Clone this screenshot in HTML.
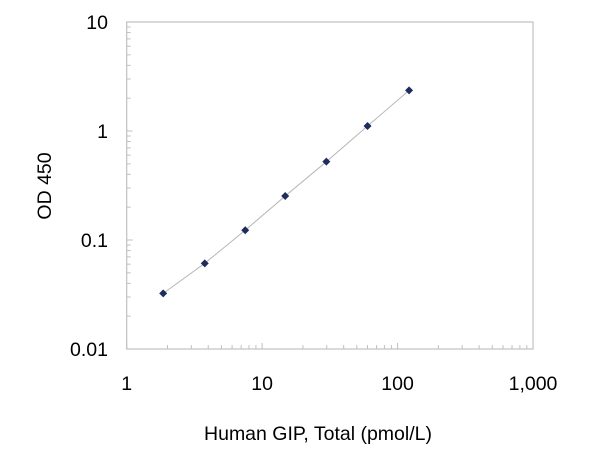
<!DOCTYPE html>
<html><head><meta charset="utf-8"><style>
body{margin:0;background:#fff;}
svg{display:block;font-family:"Liberation Sans",Arial,sans-serif;}
</style></head><body>
<svg id="chart" width="600" height="450" viewBox="0 0 600 450"></svg>
<script>
const xValues=[1.86,3.77,7.5,14.8,29.8,60,121.6];
const yValues=[0.0324,0.0611,0.123,0.253,0.523,1.11,2.36];
const xTickValues=[1,10,100,1000];
const xTickLabels=["1","10","100","1,000"];
const yTickValues=[0.01,0.1,1,10];
const yTickLabels=["0.01","0.1","1","10"];
const L=126.7,R=533,T=22,B=349;
const NS="http://www.w3.org/2000/svg";
const svg=document.getElementById('chart');
function xs(v){return L+(Math.log10(v)-0)/3*(R-L);}
function ys(v){return B-(Math.log10(v)+2)/3*(B-T);}
function mk(tag,attrs,parent){const e=document.createElementNS(NS,tag);for(const k in attrs)e.setAttribute(k,attrs[k]);(parent||svg).appendChild(e);return e;}
const frame=mk('rect',{x:L,y:T,width:R-L,height:B-T,fill:'none',stroke:'#c0c0c0','stroke-width':1.2});


for(let d=0;d<3;d++){for(let m=1;m<=9;m++){
  const xv=Math.pow(10,d)*m;
  const t=mk('line',{x1:xs(xv),x2:xs(xv),y1:B,y2:B-(m===1?6:4),stroke:'#c0c0c0'});
  
  
  const yv=Math.pow(10,d-2)*m;
  const u=mk('line',{x1:L,x2:L+(m===1?6:4),y1:ys(yv),y2:ys(yv),stroke:'#c0c0c0'});
  
  
}}
xTickValues.forEach((v,i)=>{
  const t=mk('text',{x:xs(v),y:390,'text-anchor':'middle','font-size':19.5,fill:'#000'});
  t.textContent=xTickLabels[i];
  
  
});
yTickValues.forEach((v,i)=>{
  const t=mk('text',{x:108,y:ys(v)+7,'text-anchor':'end','font-size':19.5,fill:'#000'});
  t.textContent=yTickLabels[i];
  
  
});
const line=mk('polyline',{points:xValues.map((x,i)=>xs(x)+','+ys(yValues[i])).join(' '),fill:'none',stroke:'#b8b8b8','stroke-width':1});


xValues.forEach((x,i)=>{
  const cx=xs(x),cy=ys(yValues[i]),s=4;
  const p=mk('polygon',{points:`${cx},${cy-s} ${cx+s},${cy} ${cx},${cy+s} ${cx-s},${cy}`,fill:'#1f2d5c'});
  
  
});
const xt=mk('text',{x:318,y:440,'text-anchor':'middle','font-size':19.5,fill:'#000'});
xt.textContent='Human GIP, Total (pmol/L)';


const yt=mk('text',{x:0,y:0,'text-anchor':'middle','font-size':19.5,fill:'#000',transform:'translate(51,186) rotate(-90)'});
yt.textContent='OD 450';


</script>
</body></html>
